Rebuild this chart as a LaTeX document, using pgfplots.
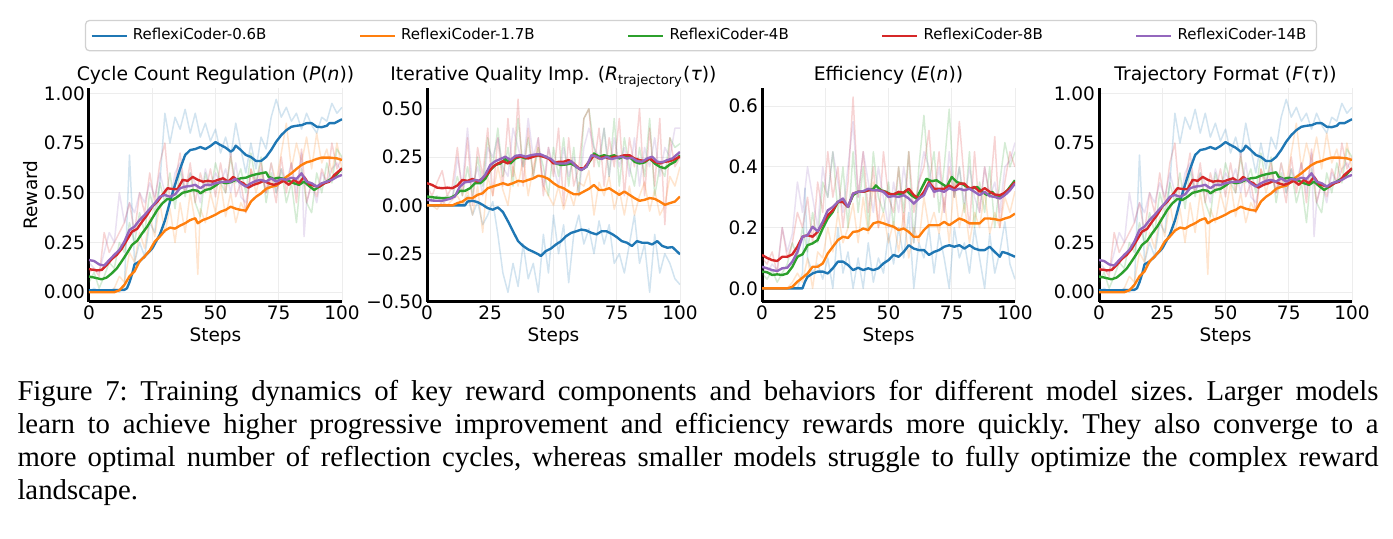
\documentclass[border=0pt]{standalone}
\usepackage{pgfplots}
\pgfplotsset{compat=1.18}
\usepackage{pgfplotstable}
\usepackage{fontspec}
\setmainfont{DejaVu Sans}
\newfontfamily\capfont{Liberation Serif}
\definecolor{c0}{HTML}{1F77B4}
\definecolor{c1}{HTML}{FF7F0E}
\definecolor{c2}{HTML}{2CA02C}
\definecolor{c3}{HTML}{D62728}
\definecolor{c4}{HTML}{9467BD}

% ================= smoothed curves =================
% ---------- Panel 1 / 4 : Cycle Count Regulation ----------
\pgfplotstableread[row sep=\\]{x y\\ 0 0.01\\ 5 0.01\\ 10 0.01\\ 14 0.012\\ 15 0.02\\ 16 0.05\\ 17 0.09\\ 18 0.14\\ 20 0.155\\ 22 0.18\\ 25 0.22\\ 28 0.29\\ 30 0.36\\ 32 0.455\\ 34 0.54\\ 36 0.62\\ 38 0.69\\ 40 0.715\\ 42 0.72\\ 44 0.73\\ 46 0.72\\ 48 0.735\\ 50 0.755\\ 52 0.74\\ 54 0.727\\ 56 0.707\\ 57 0.715\\ 58 0.737\\ 60 0.715\\ 62 0.69\\ 64 0.68\\ 66 0.66\\ 68 0.66\\ 70 0.68\\ 72 0.715\\ 74 0.757\\ 76 0.79\\ 78 0.815\\ 80 0.832\\ 82 0.837\\ 84 0.84\\ 86 0.85\\ 88 0.85\\ 90 0.832\\ 92 0.83\\ 94 0.837\\ 95 0.85\\ 97 0.85\\ 100 0.87\\}\PoneB
\pgfplotstableread[row sep=\\]{x y\\ 0 0.0\\ 10 0.0\\ 12 0.01\\ 14 0.037\\ 16 0.08\\ 18 0.105\\ 20 0.155\\ 22 0.18\\ 24 0.21\\ 26 0.255\\ 28 0.28\\ 30 0.31\\ 32 0.325\\ 34 0.32\\ 36 0.335\\ 38 0.347\\ 40 0.363\\ 42 0.372\\ 43 0.347\\ 45 0.363\\ 47 0.372\\ 50 0.39\\ 52 0.405\\ 54 0.414\\ 56 0.43\\ 58 0.42\\ 60 0.414\\ 62 0.41\\ 64 0.456\\ 66 0.48\\ 68 0.497\\ 70 0.52\\ 72 0.53\\ 74 0.536\\ 76 0.556\\ 78 0.58\\ 80 0.598\\ 82 0.62\\ 84 0.64\\ 86 0.653\\ 88 0.66\\ 90 0.67\\ 92 0.677\\ 95 0.677\\ 98 0.673\\ 100 0.665\\}\PoneO
\pgfplotstableread[row sep=\\]{x y\\ 0 0.079\\ 2 0.074\\ 5 0.065\\ 7 0.074\\ 9 0.095\\ 11 0.12\\ 13 0.157\\ 15 0.196\\ 17 0.238\\ 19 0.258\\ 21 0.296\\ 23 0.33\\ 25 0.372\\ 27 0.414\\ 29 0.447\\ 31 0.469\\ 33 0.464\\ 35 0.48\\ 37 0.5\\ 39 0.506\\ 41 0.514\\ 43 0.51\\ 44 0.497\\ 46 0.514\\ 48 0.52\\ 50 0.536\\ 52 0.556\\ 54 0.548\\ 56 0.553\\ 58 0.565\\ 60 0.573\\ 62 0.576\\ 64 0.586\\ 66 0.593\\ 68 0.598\\ 70 0.603\\ 71 0.58\\ 73 0.57\\ 75 0.576\\ 77 0.57\\ 79 0.56\\ 81 0.548\\ 83 0.54\\ 85 0.556\\ 87 0.534\\ 89 0.514\\ 91 0.531\\ 93 0.548\\ 95 0.565\\ 97 0.58\\ 100 0.623\\}\PoneG
\pgfplotstableread[row sep=\\]{x y\\ 0 0.116\\ 3 0.11\\ 5 0.112\\ 7 0.137\\ 9 0.167\\ 11 0.188\\ 13 0.22\\ 15 0.263\\ 17 0.305\\ 19 0.318\\ 21 0.355\\ 23 0.389\\ 25 0.43\\ 27 0.455\\ 29 0.489\\ 31 0.523\\ 33 0.519\\ 35 0.518\\ 37 0.565\\ 39 0.56\\ 41 0.58\\ 43 0.565\\ 45 0.556\\ 47 0.56\\ 49 0.556\\ 51 0.565\\ 53 0.573\\ 55 0.556\\ 57 0.58\\ 59 0.56\\ 61 0.548\\ 63 0.526\\ 65 0.54\\ 67 0.548\\ 69 0.56\\ 71 0.548\\ 73 0.54\\ 75 0.548\\ 77 0.56\\ 79 0.54\\ 81 0.565\\ 83 0.548\\ 85 0.58\\ 87 0.543\\ 89 0.536\\ 91 0.531\\ 93 0.548\\ 95 0.556\\ 97 0.59\\ 100 0.623\\}\PoneR
\pgfplotstableread[row sep=\\]{x y\\ 0 0.162\\ 2 0.157\\ 4 0.14\\ 6 0.134\\ 8 0.162\\ 10 0.188\\ 12 0.213\\ 14 0.255\\ 16 0.313\\ 18 0.33\\ 20 0.363\\ 22 0.389\\ 24 0.419\\ 26 0.447\\ 28 0.48\\ 30 0.489\\ 32 0.48\\ 34 0.492\\ 36 0.523\\ 38 0.531\\ 40 0.534\\ 42 0.54\\ 44 0.523\\ 46 0.54\\ 48 0.54\\ 50 0.548\\ 52 0.553\\ 54 0.556\\ 56 0.556\\ 58 0.57\\ 60 0.548\\ 62 0.531\\ 64 0.548\\ 66 0.56\\ 68 0.565\\ 70 0.556\\ 72 0.573\\ 74 0.556\\ 76 0.57\\ 78 0.565\\ 80 0.576\\ 82 0.57\\ 84 0.598\\ 86 0.556\\ 88 0.548\\ 90 0.531\\ 92 0.548\\ 94 0.556\\ 96 0.565\\ 98 0.58\\ 100 0.59\\}\PoneP

% ---------- Panel 2 : Iterative Quality Improvement ----------
\pgfplotstableread[row sep=\\]{x y\\ 0 0.0\\ 15 0.0\\ 16 0.02\\ 18 0.024\\ 20 0.017\\ 22 0.003\\ 24 -0.014\\ 26 -0.022\\ 28 -0.01\\ 30 -0.034\\ 32 -0.082\\ 34 -0.134\\ 36 -0.185\\ 38 -0.21\\ 40 -0.228\\ 42 -0.24\\ 44 -0.253\\ 45 -0.262\\ 47 -0.236\\ 49 -0.223\\ 51 -0.202\\ 53 -0.185\\ 55 -0.159\\ 57 -0.142\\ 59 -0.134\\ 61 -0.125\\ 63 -0.13\\ 65 -0.142\\ 67 -0.15\\ 69 -0.134\\ 71 -0.134\\ 73 -0.147\\ 75 -0.164\\ 77 -0.185\\ 79 -0.193\\ 81 -0.21\\ 83 -0.185\\ 85 -0.193\\ 87 -0.193\\ 89 -0.202\\ 91 -0.185\\ 93 -0.21\\ 95 -0.219\\ 97 -0.216\\ 100 -0.253\\}\PtwoB
\pgfplotstableread[row sep=\\]{x y\\ 0 0.0\\ 10 0.0\\ 12 0.012\\ 14 0.02\\ 16 0.038\\ 18 0.038\\ 20 0.055\\ 22 0.063\\ 24 0.089\\ 26 0.098\\ 28 0.106\\ 30 0.115\\ 32 0.106\\ 34 0.115\\ 36 0.127\\ 38 0.123\\ 40 0.132\\ 42 0.14\\ 44 0.154\\ 46 0.149\\ 48 0.137\\ 50 0.115\\ 52 0.098\\ 54 0.089\\ 56 0.072\\ 58 0.058\\ 60 0.058\\ 62 0.072\\ 64 0.086\\ 66 0.106\\ 68 0.08\\ 70 0.08\\ 72 0.089\\ 74 0.072\\ 76 0.055\\ 78 0.072\\ 80 0.055\\ 82 0.038\\ 84 0.024\\ 86 0.029\\ 88 0.038\\ 90 0.034\\ 92 0.02\\ 94 0.003\\ 96 0.012\\ 98 0.02\\ 100 0.046\\}\PtwoO
\pgfplotstableread[row sep=\\]{x y\\ 0 0.046\\ 3 0.041\\ 6 0.038\\ 9 0.038\\ 11 0.051\\ 13 0.075\\ 15 0.075\\ 17 0.089\\ 19 0.115\\ 21 0.115\\ 23 0.137\\ 25 0.183\\ 27 0.209\\ 29 0.217\\ 31 0.24\\ 33 0.217\\ 35 0.243\\ 37 0.252\\ 39 0.243\\ 41 0.252\\ 43 0.26\\ 45 0.257\\ 47 0.252\\ 49 0.235\\ 51 0.217\\ 53 0.209\\ 55 0.212\\ 57 0.217\\ 59 0.2\\ 61 0.183\\ 63 0.2\\ 65 0.243\\ 66 0.269\\ 68 0.252\\ 70 0.26\\ 72 0.252\\ 74 0.26\\ 76 0.243\\ 78 0.257\\ 80 0.252\\ 82 0.226\\ 84 0.217\\ 86 0.223\\ 88 0.243\\ 90 0.217\\ 92 0.2\\ 94 0.192\\ 96 0.212\\ 98 0.226\\ 100 0.26\\}\PtwoG
\pgfplotstableread[row sep=\\]{x y\\ 0 0.115\\ 2 0.106\\ 4 0.092\\ 6 0.089\\ 8 0.092\\ 10 0.089\\ 12 0.103\\ 14 0.132\\ 16 0.127\\ 18 0.137\\ 20 0.123\\ 22 0.14\\ 24 0.166\\ 26 0.2\\ 28 0.217\\ 30 0.229\\ 32 0.217\\ 34 0.243\\ 36 0.252\\ 38 0.252\\ 40 0.243\\ 42 0.252\\ 44 0.26\\ 46 0.252\\ 48 0.243\\ 50 0.217\\ 52 0.226\\ 54 0.226\\ 56 0.235\\ 58 0.217\\ 60 0.192\\ 62 0.192\\ 64 0.226\\ 66 0.26\\ 68 0.243\\ 70 0.252\\ 72 0.243\\ 74 0.252\\ 76 0.252\\ 78 0.26\\ 80 0.26\\ 82 0.243\\ 84 0.235\\ 86 0.229\\ 88 0.243\\ 90 0.226\\ 92 0.217\\ 94 0.226\\ 96 0.229\\ 98 0.24\\ 100 0.252\\}\PtwoR
\pgfplotstableread[row sep=\\]{x y\\ 0 0.029\\ 3 0.024\\ 6 0.024\\ 9 0.034\\ 11 0.046\\ 13 0.098\\ 15 0.12\\ 17 0.123\\ 19 0.132\\ 21 0.127\\ 23 0.158\\ 25 0.209\\ 27 0.229\\ 29 0.24\\ 31 0.252\\ 33 0.235\\ 35 0.257\\ 37 0.26\\ 39 0.252\\ 41 0.26\\ 43 0.264\\ 45 0.264\\ 47 0.252\\ 49 0.24\\ 51 0.217\\ 53 0.217\\ 55 0.217\\ 57 0.229\\ 59 0.2\\ 61 0.183\\ 63 0.2\\ 65 0.26\\ 67 0.252\\ 69 0.24\\ 71 0.252\\ 73 0.24\\ 75 0.247\\ 77 0.252\\ 79 0.243\\ 81 0.247\\ 83 0.229\\ 85 0.226\\ 87 0.243\\ 89 0.252\\ 91 0.226\\ 93 0.223\\ 95 0.235\\ 97 0.243\\ 100 0.277\\}\PtwoP

% ---------- Panel 3 : Efficiency ----------
\pgfplotstableread[row sep=\\]{x y\\ 0 0.0\\ 16 0.0\\ 17 0.022\\ 18 0.038\\ 20 0.049\\ 22 0.055\\ 24 0.055\\ 26 0.049\\ 28 0.066\\ 30 0.088\\ 32 0.088\\ 34 0.077\\ 36 0.06\\ 38 0.068\\ 40 0.06\\ 42 0.066\\ 44 0.06\\ 46 0.066\\ 48 0.082\\ 50 0.093\\ 52 0.11\\ 54 0.104\\ 56 0.12\\ 58 0.142\\ 60 0.131\\ 62 0.126\\ 64 0.126\\ 66 0.11\\ 68 0.12\\ 70 0.126\\ 72 0.137\\ 74 0.142\\ 76 0.137\\ 78 0.142\\ 80 0.131\\ 82 0.142\\ 84 0.131\\ 86 0.126\\ 88 0.126\\ 90 0.137\\ 92 0.12\\ 94 0.104\\ 95 0.12\\ 97 0.115\\ 100 0.104\\}\PthrB
\pgfplotstableread[row sep=\\]{x y\\ 0 0.0\\ 10 0.0\\ 12 0.005\\ 14 0.022\\ 16 0.035\\ 18 0.049\\ 20 0.071\\ 22 0.071\\ 24 0.082\\ 26 0.115\\ 28 0.137\\ 30 0.159\\ 32 0.17\\ 34 0.166\\ 36 0.186\\ 38 0.188\\ 40 0.197\\ 42 0.192\\ 44 0.214\\ 46 0.219\\ 48 0.214\\ 50 0.208\\ 52 0.203\\ 54 0.192\\ 56 0.197\\ 58 0.186\\ 60 0.17\\ 62 0.17\\ 64 0.192\\ 66 0.208\\ 68 0.208\\ 70 0.208\\ 72 0.219\\ 74 0.208\\ 76 0.219\\ 78 0.23\\ 80 0.224\\ 82 0.214\\ 84 0.214\\ 86 0.214\\ 88 0.23\\ 90 0.23\\ 92 0.228\\ 94 0.224\\ 96 0.23\\ 98 0.235\\ 100 0.246\\}\PthrO
\pgfplotstableread[row sep=\\]{x y\\ 0 0.055\\ 2 0.053\\ 4 0.044\\ 6 0.046\\ 8 0.044\\ 10 0.049\\ 12 0.071\\ 14 0.104\\ 16 0.112\\ 18 0.142\\ 20 0.148\\ 22 0.159\\ 24 0.197\\ 26 0.23\\ 28 0.252\\ 30 0.285\\ 32 0.285\\ 34 0.268\\ 36 0.307\\ 38 0.318\\ 40 0.318\\ 42 0.323\\ 44 0.328\\ 45 0.339\\ 47 0.323\\ 49 0.318\\ 51 0.309\\ 53 0.312\\ 55 0.309\\ 57 0.323\\ 59 0.307\\ 61 0.296\\ 63 0.328\\ 65 0.361\\ 67 0.353\\ 69 0.356\\ 71 0.345\\ 73 0.334\\ 75 0.367\\ 77 0.35\\ 79 0.345\\ 81 0.334\\ 83 0.328\\ 85 0.334\\ 87 0.318\\ 89 0.307\\ 91 0.318\\ 93 0.298\\ 95 0.307\\ 97 0.323\\ 100 0.356\\}\PthrG
\pgfplotstableread[row sep=\\]{x y\\ 0 0.11\\ 2 0.1\\ 4 0.093\\ 6 0.09\\ 8 0.104\\ 10 0.104\\ 12 0.112\\ 14 0.137\\ 16 0.17\\ 18 0.175\\ 20 0.17\\ 22 0.186\\ 24 0.214\\ 26 0.241\\ 28 0.257\\ 30 0.285\\ 32 0.285\\ 34 0.268\\ 36 0.312\\ 38 0.318\\ 40 0.318\\ 42 0.323\\ 44 0.323\\ 46 0.323\\ 48 0.32\\ 50 0.312\\ 52 0.309\\ 54 0.318\\ 56 0.315\\ 58 0.328\\ 60 0.307\\ 62 0.296\\ 64 0.318\\ 66 0.35\\ 68 0.328\\ 70 0.328\\ 72 0.328\\ 74 0.339\\ 76 0.328\\ 78 0.345\\ 80 0.345\\ 82 0.328\\ 84 0.334\\ 86 0.318\\ 88 0.33\\ 90 0.318\\ 92 0.309\\ 94 0.307\\ 96 0.315\\ 98 0.33\\ 100 0.35\\}\PthrR
\pgfplotstableread[row sep=\\]{x y\\ 0 0.071\\ 2 0.066\\ 4 0.06\\ 6 0.057\\ 8 0.066\\ 10 0.068\\ 12 0.088\\ 14 0.12\\ 16 0.17\\ 18 0.175\\ 20 0.203\\ 22 0.188\\ 24 0.219\\ 26 0.257\\ 28 0.268\\ 30 0.285\\ 32 0.296\\ 34 0.268\\ 36 0.312\\ 38 0.318\\ 40 0.32\\ 42 0.328\\ 44 0.323\\ 46 0.323\\ 48 0.318\\ 50 0.301\\ 52 0.304\\ 54 0.301\\ 56 0.307\\ 58 0.296\\ 60 0.279\\ 62 0.296\\ 64 0.307\\ 66 0.345\\ 68 0.318\\ 70 0.323\\ 72 0.318\\ 74 0.33\\ 76 0.323\\ 78 0.328\\ 80 0.323\\ 82 0.328\\ 84 0.318\\ 86 0.307\\ 88 0.318\\ 90 0.304\\ 92 0.301\\ 94 0.296\\ 96 0.307\\ 98 0.323\\ 100 0.345\\}\PthrP

% ================= raw (faint) curves =================
\pgfplotstableread[row sep=\\]{x y\\ 0 0.0\\ 2 0.02\\ 4 0.0\\ 6 0.01\\ 8 0.0\\ 10 0.02\\ 12 0.0\\ 14 0.03\\ 16 0.69\\ 18 0.15\\ 20 0.25\\ 22 0.18\\ 24 0.35\\ 26 0.3\\ 28 0.55\\ 30 0.9\\ 32 0.75\\ 34 0.88\\ 36 0.82\\ 38 0.92\\ 40 0.8\\ 42 0.9\\ 44 0.78\\ 46 0.85\\ 48 0.76\\ 50 0.82\\ 52 0.7\\ 54 0.78\\ 56 0.68\\ 58 0.85\\ 60 0.72\\ 62 0.6\\ 64 0.75\\ 66 0.62\\ 68 0.78\\ 70 0.72\\ 72 0.88\\ 74 0.97\\ 76 0.88\\ 78 0.93\\ 80 0.86\\ 82 0.9\\ 84 0.82\\ 86 0.9\\ 88 0.84\\ 90 0.8\\ 92 0.88\\ 94 0.86\\ 96 0.95\\ 98 0.9\\ 100 0.93\\}\RoneB
\pgfplotstableread[row sep=\\]{x y\\ 0 0.0\\ 2 0.0\\ 4 0.0\\ 6 0.0\\ 8 0.0\\ 10 0.02\\ 12 0.08\\ 14 0.05\\ 16 0.2\\ 18 0.15\\ 20 0.3\\ 22 0.22\\ 24 0.38\\ 26 0.28\\ 28 0.45\\ 30 0.3\\ 32 0.42\\ 34 0.25\\ 36 0.45\\ 38 0.3\\ 40 0.5\\ 42 0.35\\ 43 0.09\\ 44 0.42\\ 46 0.35\\ 48 0.5\\ 50 0.4\\ 52 0.55\\ 54 0.38\\ 56 0.5\\ 58 0.35\\ 60 0.45\\ 62 0.4\\ 64 0.62\\ 66 0.5\\ 68 0.6\\ 70 0.5\\ 72 0.65\\ 74 0.55\\ 76 0.7\\ 78 0.85\\ 80 0.62\\ 82 0.75\\ 84 0.65\\ 86 0.78\\ 88 0.62\\ 90 0.8\\ 92 0.65\\ 94 0.72\\ 96 0.6\\ 98 0.75\\ 100 0.62\\}\RoneO
\pgfplotstableread[row sep=\\]{x y\\ 0 0.05\\ 2 0.1\\ 4 0.02\\ 6 0.08\\ 8 0.15\\ 10 0.12\\ 12 0.25\\ 14 0.2\\ 16 0.35\\ 18 0.25\\ 20 0.4\\ 22 0.3\\ 24 0.5\\ 26 0.4\\ 28 0.55\\ 30 0.45\\ 32 0.6\\ 34 0.42\\ 36 0.62\\ 38 0.48\\ 40 0.6\\ 42 0.45\\ 44 0.38\\ 46 0.6\\ 48 0.5\\ 50 0.65\\ 52 0.55\\ 54 0.5\\ 56 0.68\\ 58 0.55\\ 60 0.62\\ 62 0.5\\ 64 0.7\\ 66 0.55\\ 68 0.68\\ 70 0.45\\ 72 0.6\\ 74 0.5\\ 76 0.62\\ 78 0.45\\ 80 0.55\\ 82 0.35\\ 84 0.62\\ 86 0.45\\ 88 0.4\\ 90 0.6\\ 92 0.5\\ 94 0.65\\ 96 0.55\\ 98 0.72\\ 100 0.68\\}\RoneG
\pgfplotstableread[row sep=\\]{x y\\ 0 0.1\\ 2 0.12\\ 4 0.08\\ 6 0.3\\ 8 0.2\\ 10 0.25\\ 12 0.3\\ 14 0.35\\ 16 0.45\\ 18 0.3\\ 20 0.5\\ 22 0.4\\ 24 0.6\\ 26 0.45\\ 28 0.65\\ 30 0.75\\ 32 0.45\\ 34 0.55\\ 36 0.7\\ 38 0.5\\ 40 0.65\\ 42 0.45\\ 44 0.6\\ 46 0.5\\ 48 0.62\\ 50 0.48\\ 52 0.65\\ 54 0.5\\ 56 0.7\\ 58 0.48\\ 60 0.55\\ 62 0.4\\ 64 0.62\\ 66 0.55\\ 68 0.65\\ 70 0.5\\ 72 0.58\\ 74 0.45\\ 76 0.68\\ 78 0.5\\ 80 0.65\\ 82 0.45\\ 84 0.72\\ 86 0.45\\ 88 0.55\\ 90 0.48\\ 92 0.62\\ 94 0.55\\ 96 0.75\\ 98 0.62\\ 100 0.68\\}\RoneR
\pgfplotstableread[row sep=\\]{x y\\ 0 0.15\\ 2 0.12\\ 4 0.1\\ 6 0.2\\ 8 0.3\\ 10 0.25\\ 12 0.5\\ 14 0.35\\ 16 0.45\\ 18 0.4\\ 20 0.5\\ 22 0.45\\ 24 0.55\\ 26 0.48\\ 28 0.6\\ 30 0.5\\ 32 0.45\\ 34 0.6\\ 36 0.65\\ 38 0.5\\ 40 0.6\\ 42 0.55\\ 44 0.45\\ 46 0.62\\ 48 0.52\\ 50 0.6\\ 52 0.55\\ 54 0.62\\ 56 0.5\\ 58 0.65\\ 60 0.48\\ 62 0.45\\ 64 0.6\\ 66 0.55\\ 68 0.62\\ 70 0.5\\ 72 0.65\\ 74 0.5\\ 76 0.62\\ 78 0.55\\ 80 0.65\\ 82 0.5\\ 84 0.7\\ 85 0.28\\ 86 0.45\\ 88 0.55\\ 90 0.45\\ 92 0.6\\ 94 0.55\\ 96 0.62\\ 98 0.65\\ 100 0.6\\}\RoneP

\pgfplotstableread[row sep=\\]{x y\\ 0 0.0\\ 2 0.0\\ 4 0.0\\ 6 0.0\\ 8 0.0\\ 10 0.0\\ 12 0.0\\ 14 0.0\\ 16 0.05\\ 18 -0.05\\ 20 0.02\\ 22 -0.1\\ 24 -0.05\\ 26 0.02\\ 28 -0.15\\ 30 -0.35\\ 32 -0.45\\ 34 -0.3\\ 36 -0.42\\ 38 -0.2\\ 40 -0.38\\ 42 -0.3\\ 44 -0.45\\ 46 -0.15\\ 48 -0.35\\ 50 -0.05\\ 52 -0.25\\ 54 -0.1\\ 56 -0.4\\ 58 -0.15\\ 60 -0.05\\ 62 -0.2\\ 64 -0.12\\ 66 -0.25\\ 68 -0.08\\ 70 -0.2\\ 72 -0.1\\ 74 -0.3\\ 76 -0.25\\ 78 -0.35\\ 80 -0.2\\ 82 -0.05\\ 84 -0.3\\ 86 -0.2\\ 88 -0.45\\ 90 -0.15\\ 92 -0.35\\ 94 -0.25\\ 96 -0.3\\ 98 -0.38\\ 100 -0.41\\}\RtwoB
\pgfplotstableread[row sep=\\]{x y\\ 0 0.0\\ 2 0.0\\ 4 -0.02\\ 6 0.02\\ 8 0.0\\ 10 0.03\\ 12 0.05\\ 14 0.0\\ 16 0.08\\ 18 -0.05\\ 20 0.1\\ 22 -0.14\\ 24 0.15\\ 26 0.05\\ 28 0.2\\ 30 0.08\\ 32 0.0\\ 34 0.2\\ 36 0.1\\ 38 0.25\\ 40 0.05\\ 42 0.2\\ 44 0.3\\ 46 0.1\\ 48 0.05\\ 50 0.0\\ 52 0.1\\ 54 -0.02\\ 56 0.08\\ 58 0.0\\ 60 0.12\\ 62 0.1\\ 64 0.18\\ 66 -0.05\\ 68 0.12\\ 70 0.05\\ 72 0.15\\ 74 -0.02\\ 76 0.08\\ 78 -0.05\\ 80 0.1\\ 82 -0.05\\ 84 0.05\\ 86 0.12\\ 88 -0.03\\ 90 0.08\\ 92 -0.05\\ 94 0.0\\ 96 0.15\\ 98 0.1\\ 100 0.2\\}\RtwoO
\pgfplotstableread[row sep=\\]{x y\\ 0 0.05\\ 2 0.03\\ 4 0.04\\ 6 0.03\\ 8 0.05\\ 10 0.04\\ 12 0.15\\ 14 0.05\\ 16 0.2\\ 18 0.05\\ 20 0.25\\ 22 0.1\\ 24 0.35\\ 26 0.2\\ 28 0.4\\ 30 0.15\\ 32 0.3\\ 34 0.1\\ 36 0.45\\ 38 0.2\\ 40 0.35\\ 42 0.15\\ 44 0.3\\ 46 0.2\\ 48 0.05\\ 50 0.3\\ 52 0.15\\ 54 0.35\\ 56 0.1\\ 58 0.3\\ 60 0.05\\ 62 0.45\\ 64 0.5\\ 66 0.3\\ 68 0.2\\ 70 0.4\\ 72 0.15\\ 74 0.45\\ 76 0.1\\ 78 0.35\\ 80 0.2\\ 82 0.1\\ 84 0.3\\ 86 0.15\\ 88 0.45\\ 90 0.05\\ 92 0.2\\ 94 0.15\\ 96 0.35\\ 98 0.3\\ 100 0.32\\}\RtwoG
\pgfplotstableread[row sep=\\]{x y\\ 0 0.1\\ 2 0.05\\ 4 0.12\\ 6 0.18\\ 8 0.05\\ 10 0.1\\ 12 0.3\\ 14 0.05\\ 16 0.35\\ 18 0.0\\ 20 0.3\\ 22 0.15\\ 24 0.4\\ 26 0.05\\ 28 0.35\\ 30 0.1\\ 32 0.45\\ 34 0.15\\ 36 0.55\\ 38 0.1\\ 40 0.4\\ 42 0.15\\ 44 0.35\\ 46 0.05\\ 48 0.3\\ 50 0.15\\ 52 0.4\\ 54 0.0\\ 56 0.35\\ 58 0.1\\ 60 0.2\\ 62 0.45\\ 64 0.5\\ 66 0.2\\ 68 0.4\\ 70 0.1\\ 72 0.35\\ 74 0.2\\ 76 0.45\\ 78 0.05\\ 80 0.35\\ 82 0.2\\ 84 0.5\\ 86 0.05\\ 88 0.4\\ 90 0.1\\ 92 0.45\\ 94 -0.1\\ 96 0.35\\ 98 0.2\\ 100 0.25\\}\RtwoR
\pgfplotstableread[row sep=\\]{x y\\ 0 0.03\\ 2 0.02\\ 4 0.05\\ 6 0.0\\ 8 0.04\\ 10 0.03\\ 12 0.25\\ 14 0.1\\ 16 0.4\\ 18 0.1\\ 20 0.2\\ 22 0.05\\ 24 0.3\\ 26 0.25\\ 28 0.35\\ 30 0.2\\ 32 0.15\\ 34 0.4\\ 36 0.3\\ 38 0.2\\ 40 0.45\\ 42 0.25\\ 44 0.35\\ 46 0.1\\ 48 0.3\\ 50 0.2\\ 52 0.1\\ 54 0.3\\ 56 0.15\\ 58 0.25\\ 60 0.05\\ 62 0.3\\ 64 0.4\\ 66 0.3\\ 68 0.25\\ 70 0.4\\ 72 0.15\\ 74 0.35\\ 76 0.2\\ 78 0.3\\ 80 0.15\\ 82 0.35\\ 84 0.1\\ 86 0.3\\ 88 0.2\\ 90 0.35\\ 92 0.15\\ 94 0.3\\ 96 0.25\\ 98 0.4\\ 100 0.4\\}\RtwoP

\pgfplotstableread[row sep=\\]{x y\\ 0 0.0\\ 14 0.0\\ 16 0.05\\ 17 0.33\\ 18 0.1\\ 20 0.05\\ 22 0.08\\ 24 0.03\\ 26 0.1\\ 28 0.0\\ 30 0.2\\ 32 0.05\\ 34 0.12\\ 36 0.0\\ 38 0.1\\ 40 0.0\\ 42 0.15\\ 44 0.02\\ 46 0.1\\ 48 0.05\\ 50 0.18\\ 52 0.08\\ 54 0.2\\ 56 0.1\\ 58 0.25\\ 60 0.0\\ 62 0.15\\ 64 0.1\\ 66 0.2\\ 68 0.05\\ 70 0.18\\ 72 0.1\\ 74 0.0\\ 76 0.2\\ 78 0.1\\ 80 0.15\\ 82 0.05\\ 84 0.2\\ 86 0.1\\ 88 0.0\\ 90 0.18\\ 92 0.05\\ 94 0.12\\ 96 0.22\\ 98 0.08\\ 100 0.03\\}\RthrB
\pgfplotstableread[row sep=\\]{x y\\ 0 0.0\\ 10 0.0\\ 12 0.02\\ 14 0.05\\ 16 0.02\\ 18 0.1\\ 20 0.0\\ 22 0.12\\ 24 0.1\\ 26 0.2\\ 28 0.12\\ 30 0.25\\ 32 0.15\\ 34 0.2\\ 36 0.28\\ 38 0.15\\ 40 0.3\\ 42 0.18\\ 44 0.35\\ 46 0.2\\ 48 0.25\\ 50 0.15\\ 52 0.22\\ 54 0.12\\ 56 0.25\\ 58 0.1\\ 60 0.2\\ 62 0.15\\ 64 0.3\\ 66 0.2\\ 68 0.25\\ 70 0.18\\ 72 0.3\\ 74 0.15\\ 76 0.35\\ 78 0.2\\ 80 0.28\\ 82 0.15\\ 84 0.25\\ 86 0.2\\ 88 0.32\\ 90 0.18\\ 92 0.25\\ 94 0.2\\ 96 0.3\\ 98 0.25\\ 100 0.32\\}\RthrO
\pgfplotstableread[row sep=\\]{x y\\ 0 0.05\\ 2 0.03\\ 4 0.06\\ 6 0.02\\ 8 0.05\\ 10 0.08\\ 12 0.15\\ 14 0.1\\ 16 0.2\\ 18 0.12\\ 20 0.25\\ 22 0.15\\ 24 0.35\\ 26 0.3\\ 28 0.45\\ 30 0.25\\ 32 0.4\\ 34 0.2\\ 36 0.45\\ 38 0.25\\ 40 0.4\\ 42 0.2\\ 44 0.45\\ 46 0.3\\ 48 0.25\\ 50 0.35\\ 52 0.2\\ 54 0.4\\ 56 0.25\\ 58 0.45\\ 60 0.15\\ 62 0.4\\ 64 0.57\\ 66 0.35\\ 68 0.45\\ 70 0.25\\ 72 0.4\\ 74 0.59\\ 76 0.3\\ 78 0.4\\ 80 0.25\\ 82 0.45\\ 84 0.2\\ 86 0.35\\ 88 0.25\\ 90 0.4\\ 92 0.2\\ 94 0.35\\ 96 0.48\\ 98 0.4\\ 100 0.45\\}\RthrG
\pgfplotstableread[row sep=\\]{x y\\ 0 0.1\\ 2 0.08\\ 4 0.12\\ 6 0.05\\ 8 0.2\\ 10 0.1\\ 12 0.15\\ 14 0.25\\ 16 0.2\\ 18 0.3\\ 20 0.15\\ 22 0.35\\ 24 0.25\\ 26 0.45\\ 28 0.3\\ 30 0.4\\ 32 0.2\\ 34 0.35\\ 36 0.63\\ 38 0.3\\ 40 0.45\\ 42 0.25\\ 44 0.4\\ 46 0.2\\ 48 0.45\\ 50 0.3\\ 52 0.25\\ 54 0.4\\ 56 0.2\\ 58 0.45\\ 60 0.25\\ 62 0.35\\ 64 0.4\\ 66 0.52\\ 68 0.3\\ 70 0.45\\ 72 0.25\\ 74 0.4\\ 76 0.3\\ 78 0.55\\ 80 0.35\\ 82 0.2\\ 84 0.45\\ 86 0.25\\ 88 0.4\\ 90 0.3\\ 92 0.5\\ 94 0.2\\ 96 0.35\\ 98 0.45\\ 100 0.4\\}\RthrR
\pgfplotstableread[row sep=\\]{x y\\ 0 0.07\\ 2 0.05\\ 4 0.08\\ 6 0.06\\ 8 0.2\\ 10 0.12\\ 12 0.18\\ 14 0.35\\ 16 0.25\\ 18 0.4\\ 20 0.3\\ 22 0.2\\ 24 0.4\\ 26 0.3\\ 28 0.45\\ 30 0.35\\ 32 0.25\\ 34 0.4\\ 36 0.55\\ 38 0.3\\ 40 0.45\\ 42 0.35\\ 44 0.25\\ 46 0.4\\ 48 0.3\\ 50 0.2\\ 52 0.35\\ 54 0.25\\ 56 0.4\\ 58 0.3\\ 60 0.15\\ 62 0.35\\ 64 0.45\\ 66 0.4\\ 68 0.3\\ 70 0.4\\ 72 0.25\\ 74 0.45\\ 76 0.3\\ 78 0.4\\ 80 0.28\\ 82 0.4\\ 84 0.3\\ 86 0.25\\ 88 0.4\\ 90 0.3\\ 92 0.35\\ 94 0.25\\ 96 0.4\\ 98 0.42\\ 100 0.48\\}\RthrP

\newcommand{\fsz}{\fontsize{7.4}{8.9}\selectfont}
\pgfplotsset{
  panel/.style={
    width=101.2pt, height=85.6pt, scale only axis,
    xmin=0, xmax=100,
    axis x line*=bottom, axis y line*=left,
    axis line style={line width=1.2pt, black, -},
    major tick length=0pt,
    xtick={0,25,50,75,100},
    xticklabels={0,25,50,75,100},
    grid=major, grid style={line width=0.4pt, black!7},
    tick label style={font=\fsz},
    xticklabel style={anchor=base, yshift=-7.2pt},
    yticklabel style={anchor=east, inner sep=0pt, xshift=-1.4pt},
    label style={font=\fsz},
    every axis title shift=0pt,
    title style={font=\fontsize{7.5}{9}\selectfont, at={(axis description cs:0.5,1)}, anchor=base, yshift=2.9pt},
    xlabel=Steps,
    xlabel style={at={(axis description cs:0.5,0)}, anchor=base, yshift=-15.9pt},
    ylabel style={at={(axis description cs:-0.229,0.5)}, anchor=center, rotate=0},
    every axis plot/.append style={line width=0.95pt, line join=round},
    clip=true,
  },
  raw/.style={forget plot, line width=0.6pt, opacity=0.2},
}

\begin{document}
\begin{tikzpicture}
\path[use as bounding box] (0,0) rectangle (557.2pt,215.6pt);

% Panel 1
\begin{axis}[panel, at={(35.6pt,94.8pt)}, anchor=south west,
  ymin=-0.049, ymax=1.027,
  ytick={0,0.25,0.5,0.75,1}, yticklabels={0.00,0.25,0.50,0.75,1.00},
  title={Cycle Count Regulation (\textit{P}(\textit{n}))},
  ylabel={Reward},
  legend columns=5,
  legend style={at={(axis description cs:-0.016,1.318)}, anchor=north west,
    draw=black!18, rounded corners=1.5pt, line width=0.5pt,
    font=\fontsize{6}{7.2}\selectfont, inner xsep=2pt, inner ysep=1pt,
    /tikz/every even column/.append style={column sep=35pt}},
  legend image code/.code={\draw[#1, line width=0.9pt] (0pt,0pt) -- (14pt,0pt);},
]
\addplot[c0, raw] table {\RoneB};
\addplot[c1, raw] table {\RoneO};
\addplot[c2, raw] table {\RoneG};
\addplot[c3, raw] table {\RoneR};
\addplot[c4, raw] table {\RoneP};
\addplot[c0] table {\PoneB}; \addlegendentry{ReflexiCoder-0.6B}
\addplot[c1] table {\PoneO}; \addlegendentry{ReflexiCoder-1.7B}
\addplot[c2] table {\PoneG}; \addlegendentry{ReflexiCoder-4B}
\addplot[c3] table {\PoneR}; \addlegendentry{ReflexiCoder-8B}
\addplot[c4] table {\PoneP}; \addlegendentry{ReflexiCoder-14B}
\end{axis}

% Panel 2
\begin{axis}[panel, at={(170.8pt,94.8pt)}, anchor=south west,
  ymin=-0.5, ymax=0.608,
  ytick={-0.5,-0.25,0,0.25,0.5}, yticklabels={−0.50,−0.25,0.00,0.25,0.50},
  title={Iterative Quality Imp. (\textit{R}\textsubscript{trajectory}(\textit{τ}))},
]
\addplot[c0, raw] table {\RtwoB};
\addplot[c1, raw] table {\RtwoO};
\addplot[c2, raw] table {\RtwoG};
\addplot[c3, raw] table {\RtwoR};
\addplot[c4, raw] table {\RtwoP};
\addplot[c0] table {\PtwoB};
\addplot[c1] table {\PtwoO};
\addplot[c2] table {\PtwoG};
\addplot[c3] table {\PtwoR};
\addplot[c4] table {\PtwoP};
\end{axis}

% Panel 3
\begin{axis}[panel, at={(304.8pt,94.8pt)}, anchor=south west,
  ymin=-0.045, ymax=0.66,
  ytick={0,0.2,0.4,0.6}, yticklabels={0.0,0.2,0.4,0.6},
  title={Efficiency (\textit{E}(\textit{n}))},
]
\addplot[c0, raw] table {\RthrB};
\addplot[c1, raw] table {\RthrO};
\addplot[c2, raw] table {\RthrG};
\addplot[c3, raw] table {\RthrR};
\addplot[c4, raw] table {\RthrP};
\addplot[c0] table {\PthrB};
\addplot[c1] table {\PthrO};
\addplot[c2] table {\PthrG};
\addplot[c3] table {\PthrR};
\addplot[c4] table {\PthrP};
\end{axis}

% Panel 4
\begin{axis}[panel, at={(439.6pt,94.8pt)}, anchor=south west,
  ymin=-0.049, ymax=1.027,
  ytick={0,0.25,0.5,0.75,1}, yticklabels={0.00,0.25,0.50,0.75,1.00},
  title={Trajectory Format (\textit{F}(\textit{τ}))},
]
\addplot[c0, raw] table {\RoneB};
\addplot[c1, raw] table {\RoneO};
\addplot[c2, raw] table {\RoneG};
\addplot[c3, raw] table {\RoneR};
\addplot[c4, raw] table {\RoneP};
\addplot[c0] table {\PoneB};
\addplot[c1] table {\PoneO};
\addplot[c2] table {\PoneG};
\addplot[c3] table {\PoneR};
\addplot[c4] table {\PoneP};
\end{axis}

% Caption
\begin{scope}[every node/.style={anchor=base west, inner sep=0pt, font=\capfont\frenchspacing\fontsize{11.5}{13.8}\selectfont}]
\node at (6.8pt,55.2pt) {\makebox[544.4pt][s]{Figure 7: Training dynamics of key reward components and behaviors for different model sizes. Larger models}};
\node at (6.8pt,42.0pt) {\makebox[544.4pt][s]{learn to achieve higher progressive improvement and efficiency rewards more quickly. They also converge to a}};
\node at (6.8pt,28.8pt) {\makebox[544.4pt][s]{more optimal number of reflection cycles, whereas smaller models struggle to fully optimize the complex reward}};
\node at (6.8pt,15.8pt) {landscape.};
\end{scope}
\end{tikzpicture}
\end{document}
